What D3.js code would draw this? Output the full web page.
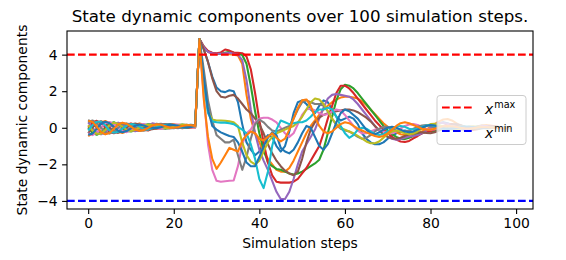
<!DOCTYPE html>
<html>
<head>
<meta charset="utf-8">
<script src="https://cdn.jsdelivr.net/npm/d3@7"></script>
<style>
  body { margin: 0; background: #fff; }
  text { font-family: "DejaVu Sans", sans-serif; fill: #000; }
</style>
</head>
<body>
<script>
// one array per state component, steps 0..99 (rows of 10 after the jump at step 26)
var blue1 = [.42,.28,0,-.26,-.34,-.23,0,.20,.26,.17, .02,-.13,-.18,-.11,.03,.15,.22,.18,.08,-.01, -.03,.01,.08,.14,.17,.14,
  4.85,4.30,3.60,2.80,2.20,2.00,1.95,2.05,2.00,1.40,
  0.20,-0.80,-1.20,-1.50,-1.30,-0.70,-0.40,-0.50,-1.00,-1.30,
  -1.00,-0.20,0.80,1.40,1.50,1.30,1.00,0.80,1.20,1.50,
  1.40,1.00,0.60,0.40,0.50,0.60,0.50,0.20,-0.30,-0.60,
  -0.80,-0.90,-0.90,-0.80,-0.60,-0.45,-0.30,-0.20,-0.15,-0.20,
  -0.30,-0.35,-0.30,-0.15,0.00,0.15,0.25,0.30,0.25,0.15,
  0.05,-0.05,-0.10,-0.08,0.00,0.08,0.12,0.10,0.05,0.00,
  -0.03,-0.02,0.01,0.03];
var orange1 = [-.46,-.31,0,.29,.37,.25,0,-.22,-.29,-.19, -.02,.18,.24,.16,.03,-.03,-.07,-.02,.08,.17, .19,.15,.08,.02,-.01,.02,
  4.85,4.40,4.15,4.08,4.05,4.05,4.05,4.02,4.00,3.95,
  3.50,1.80,0.50,-0.30,-0.80,-1.30,-1.70,-2.00,-2.30,-2.40,
  -2.40,-2.20,-1.80,-1.30,-0.80,-0.30,0.10,0.40,0.70,1.00,
  1.20,1.40,1.55,1.65,1.70,1.70,1.65,1.60,1.45,1.25,
  1.00,0.75,0.50,0.25,0.05,-0.10,-0.25,-0.35,-0.40,-0.40,
  -0.35,-0.30,-0.20,-0.10,0.05,0.20,0.35,0.45,0.48,0.40,
  0.25,0.10,0.00,-0.05,-0.02,0.05,0.12,0.15,0.12,0.08,
  0.03,0.00,0.00,0.02];
var green = [0,-.28,-.38,-.26,0,.23,.30,.20,0,-.17, -.20,-.13,.02,.15,.19,.19,.08,-.02,-.05,-.01, .08,.15,.18,.14,.08,.02,
  4.85,4.45,4.18,4.08,4.05,4.05,4.10,4.15,4.10,4.05,
  3.98,3.50,2.30,0.90,-0.30,-1.20,-1.90,-2.10,-2.25,-2.30,
  -2.40,-2.50,-2.55,-2.50,-2.40,-2.25,-2.10,-1.95,-1.75,-1.20,
  -0.30,0.60,1.50,2.10,2.35,2.30,2.15,1.90,1.60,1.30,
  1.00,0.70,0.40,0.10,-0.15,-0.35,-0.50,-0.60,-0.62,-0.55,
  -0.45,-0.35,-0.28,-0.22,-0.20,-0.18,-0.12,-0.05,0.05,0.12,
  0.15,0.12,0.05,-0.02,-0.06,-0.05,0.00,0.05,0.08,0.07,
  0.04,0.00,-0.02,-0.01];
var red = [0,.28,.38,.26,0,-.23,-.30,-.20,0,.17, .24,.17,.02,-.11,-.15,-.03,.08,.18,.21,.17, .08,.01,-.02,.02,.08,.14,
  4.85,4.45,4.20,4.10,4.08,4.12,4.28,4.22,4.12,4.10,
  4.08,3.90,3.20,1.90,0.40,-0.80,-1.90,-2.60,-2.95,-3.00,
  -3.00,-3.00,-2.95,-2.80,-2.50,-2.20,-1.80,-1.40,-1.00,-0.30,
  0.50,1.20,1.90,2.30,2.30,2.15,1.90,1.60,1.30,1.00,
  0.70,0.40,0.15,-0.10,-0.30,-0.50,-0.65,-0.75,-0.78,-0.72,
  -0.58,-0.45,-0.30,-0.22,-0.18,-0.10,0.00,0.10,0.18,0.20,
  0.15,0.05,-0.05,-0.12,-0.12,-0.06,0.02,0.08,0.10,0.08,
  0.03,-0.02,-0.03,0.00];
var purple = [.30,0,-.27,-.36,-.24,0,.21,.28,.18,0, -.14,-.19,-.12,.02,.14,.24,.19,.08,-.01,-.04, 0,.08,.15,.17,.14,.08,
  4.85,4.40,4.15,4.08,4.05,4.05,4.08,4.10,4.05,4.00,
  3.70,2.60,1.00,-0.30,-1.20,-1.80,-2.30,-2.90,-3.50,-3.90,
  -3.90,-3.50,-2.80,-2.00,-1.30,-0.90,-0.50,-0.10,0.50,1.10,
  1.60,1.80,1.85,1.80,1.75,1.70,1.55,1.30,1.00,0.70,
  0.40,0.10,-0.15,-0.35,-0.50,-0.60,-0.65,-0.62,-0.55,-0.48,
  -0.45,-0.40,-0.30,-0.15,0.00,0.15,0.25,0.28,0.22,0.12,
  0.00,-0.10,-0.15,-0.12,-0.05,0.03,0.08,0.09,0.06,0.02,
  -0.01,-0.03,-0.02,0.00];
var brown = [-.30,0,.27,.36,.24,0,-.21,-.28,-.18,0, .18,.23,.16,.02,-.10,-.08,-.03,.08,.17,.20, .16,.08,.01,-.01,.02,.08,
  4.85,4.30,3.60,2.70,2.00,1.70,1.65,1.75,1.80,1.60,
  1.30,1.00,0.80,0.50,0.20,-0.30,-0.90,-1.40,-1.80,-2.10,
  -2.35,-2.50,-2.60,-2.40,-1.70,-0.80,-0.10,0.30,0.55,0.70,
  0.80,0.85,0.90,0.95,1.00,1.00,0.95,0.85,0.70,0.55,
  0.35,0.10,-0.15,-0.35,-0.50,-0.58,-0.60,-0.55,-0.45,-0.35,
  -0.28,-0.25,-0.25,-0.28,-0.30,-0.25,-0.15,-0.02,0.10,0.18,
  0.20,0.15,0.06,-0.03,-0.08,-0.08,-0.03,0.03,0.07,0.07,
  0.04,0.00,-0.02,-0.01];
var pink = [-.30,-.40,-.27,0,.24,.32,.21,0,-.18,-.24, -.14,.02,.16,.20,.14,.08,-.03,-.06,-.01,.08, .16,.18,.15,.08,.02,0,
  4.85,1.80,-0.90,-2.30,-2.90,-2.95,-2.92,-2.90,-2.88,-2.10,
  -0.90,-0.30,-0.10,0.30,0.50,0.55,0.55,0.45,0.30,0.00,
  -0.30,-0.50,-0.30,0.20,0.70,1.00,1.05,0.95,0.80,0.70,
  0.75,0.90,1.00,0.95,0.70,0.40,0.10,-0.15,-0.30,-0.30,
  -0.20,-0.10,-0.10,-0.20,-0.30,-0.30,-0.20,-0.05,0.10,0.18,
  0.20,0.15,0.05,-0.05,-0.10,-0.08,0.00,0.08,0.12,0.10,
  0.05,0.00,-0.03,-0.03,0.00,0.04,0.06,0.05,0.02,0.00,
  -0.01,0.00,0.01,0.02];
var gray = [.30,.40,.27,0,-.24,-.32,-.21,0,.18,.24, .18,.02,-.12,-.16,-.10,.08,.19,.22,.17,.08, 0,-.02,.01,.08,.14,.16,
  4.85,3.20,1.50,0.40,-0.40,-0.60,-0.80,-0.80,-0.65,-1.50,
  -2.30,-1.60,-0.60,0.20,0.45,0.30,0.05,-0.15,-0.20,-0.10,
  0.00,0.10,0.50,1.00,1.40,1.50,1.40,1.30,1.30,1.20,
  0.90,0.50,0.15,-0.05,-0.15,-0.20,-0.35,-0.50,-0.60,-0.55,
  -0.40,-0.20,-0.05,0.05,0.05,-0.05,-0.15,-0.20,-0.20,-0.15,
  -0.05,0.05,0.12,0.15,0.10,0.02,-0.05,-0.08,-0.05,0.00,
  0.05,0.07,0.05,0.02,-0.01,-0.02,-0.01,0.01,0.02,0.02,
  0.01,0.00,0.00,0.01];
var olive = [.15,-.15,-.33,-.33,-.12,.15,.27,.22,.05,-.12, -.18,-.12,.01,.12,.16,.16,.13,.05,-.01,-.02, .05,.12,.16,.16,.12,.07,
  4.85,2.60,0.90,0.45,0.40,0.40,0.38,0.35,0.30,0.10,
  -0.80,-1.50,-1.85,-2.00,-1.80,-1.30,-0.80,-0.50,-0.30,-0.20,
  -0.10,0.00,0.10,0.30,0.60,1.00,1.40,1.60,1.55,1.30,
  0.90,0.50,0.20,0.00,-0.10,-0.20,-0.30,-0.45,-0.60,-0.75,
  -0.85,-0.85,-0.75,-0.55,-0.35,-0.20,-0.15,-0.20,-0.30,-0.35,
  -0.30,-0.20,-0.05,0.10,0.20,0.22,0.15,0.05,-0.05,-0.10,
  -0.10,-0.05,0.02,0.07,0.08,0.05,0.01,-0.02,-0.03,-0.01,
  0.01,0.02,0.01,0.00];
var cyan = [-.15,.15,.33,.33,.12,-.15,-.27,-.22,-.05,.12, .20,.17,.06,-.06,-.10,-.02,.03,.11,.17,.18, .14,.07,.02,.02,.06,.12,
  4.85,2.50,0.80,0.35,0.30,0.28,0.28,0.25,0.20,0.05,
  -0.10,-0.30,-0.90,-1.70,-2.80,-3.30,-2.40,-1.00,-0.10,0.40,
  0.30,0.20,0.25,0.30,0.30,0.40,0.60,0.85,1.00,1.00,
  1.10,1.00,0.60,0.10,-0.30,-0.55,-0.40,-0.10,0.00,-0.05,
  -0.20,-0.35,-0.40,-0.35,-0.20,-0.05,0.05,0.10,0.05,-0.05,
  -0.10,-0.05,0.05,0.12,0.15,0.10,0.02,-0.05,-0.08,-0.05,
  0.00,0.05,0.07,0.05,0.02,-0.01,-0.02,-0.01,0.01,0.02,
  0.02,0.01,0.00,0.00];
var blue2 = [-.38,-.32,-.06,.22,.33,.25,.05,-.16,-.24,-.18, -.03,.11,.18,.13,.03,.00,-.02,.03,.11,.16, .15,.11,.06,.03,.05,.09,
  4.85,2.80,1.00,0.10,-0.10,-0.25,-0.35,-0.45,-0.50,-0.80,
  -1.30,-1.90,-2.10,-2.10,-1.60,-1.00,-0.55,-0.25,-0.40,-1.10,
  -1.30,-1.40,-1.20,-0.80,-0.30,0.10,0.00,-0.50,-1.00,-1.20,
  -0.90,-0.30,0.30,0.80,1.00,0.90,0.70,0.50,0.20,-0.10,
  -0.30,-0.35,-0.25,-0.10,0.00,0.05,0.00,-0.10,-0.20,-0.25,
  -0.20,-0.10,0.00,0.10,0.15,0.12,0.05,-0.02,-0.05,-0.05,
  -0.02,0.02,0.05,0.06,0.04,0.01,-0.01,-0.02,-0.01,0.01,
  0.02,0.02,0.01,0.00];
var orange2 = [.40,.32,.06,-.24,-.36,-.28,-.05,.18,.28,.22, .06,-.10,-.17,-.13,-.01,.12,.19,.17,.09,.01, .00,.04,.10,.14,.14,.10,
  4.85,1.60,-0.50,-1.70,-2.25,-1.90,-1.50,-1.10,-1.20,-1.30,
  -0.70,-0.40,-0.20,-0.30,-0.60,-0.70,-0.50,-0.30,-0.55,-0.75,
  -0.60,-0.10,0.50,1.10,1.50,1.55,1.20,0.60,0.10,-0.20,
  -0.30,-0.20,0.00,0.20,0.30,0.25,0.10,-0.05,-0.15,-0.25,
  -0.35,-0.45,-0.50,-0.45,-0.30,-0.10,0.10,0.25,0.30,0.25,
  0.15,0.05,-0.05,-0.10,-0.10,-0.05,0.02,0.08,0.10,0.08,
  0.04,0.00,-0.03,-0.04,-0.02,0.01,0.03,0.03,0.02,0.00,
  -0.01,-0.01,0.00,0.01];

var series = [blue1, orange1, green, red, purple, brown, pink, gray, olive, cyan, blue2, orange2];
var colors = ["#1f77b4", "#ff7f0e", "#2ca02c", "#d62728", "#9467bd", "#8c564b",
              "#e377c2", "#7f7f7f", "#bcbd22", "#17becf", "#1f77b4", "#ff7f0e"];
var xTicks = [0, 20, 40, 60, 80, 100];
var yTicks = [-4, -2, 0, 2, 4];
var bounds = [{name: "max", value: 4, color: "red"}, {name: "min", value: -4, color: "blue"}];

var W = 566, H = 260;
var margin = {top: 31, right: 33, bottom: 51, left: 67};
var w = W - margin.left - margin.right;
var h = H - margin.top - margin.bottom;

var nSteps = blue1.length;

// matplotlib style 5% margins
var xPad = (nSteps - 1) * 0.05;
var x = d3.scaleLinear().domain([-xPad, nSteps - 1 + xPad]).range([0, w]);

var allVals = [].concat.apply([], series).concat(bounds.map(function(b) { return b.value }));
var yMin = d3.min(allVals), yMax = d3.max(allVals);
var yPad = (yMax - yMin) * 0.05;
var y = d3.scaleLinear().domain([yMin - yPad, yMax + yPad]).range([h, 0]);

var svg = d3.select("body").append("svg")
  .attr("width", W)
  .attr("height", H);

var g = svg.append("g")
  .attr("transform", "translate(" + margin.left + "," + margin.top + ")");

g.append("defs").append("clipPath").attr("id", "clip")
  .append("rect").attr("width", w).attr("height", h);

var plot = g.append("g").attr("clip-path", "url(#clip)");

var line = d3.line()
  .x(function(d, i) { return x(i) })
  .y(function(d) { return y(d) });

plot.selectAll(".state")
  .data(series)
  .enter().append("path")
  .attr("class", "state")
  .attr("d", line)
  .attr("fill", "none")
  .attr("stroke", function(d, i) { return colors[i] })
  .attr("stroke-width", 2.08)
  .attr("stroke-linejoin", "round");

plot.selectAll(".bound")
  .data(bounds)
  .enter().append("line")
  .attr("class", "bound")
  .attr("x1", 0).attr("x2", w)
  .attr("y1", function(d) { return y(d.value) })
  .attr("y2", function(d) { return y(d.value) })
  .attr("stroke", function(d) { return d.color })
  .attr("stroke-width", 2.08)
  .attr("stroke-dasharray", "7.7,3.3");

// axes
var xAxis = d3.axisBottom(x).tickValues(xTicks).tickSize(4.9).tickPadding(4.5);
var yAxis = d3.axisLeft(y).tickValues(yTicks).tickSize(4.9).tickPadding(4.5)
  .tickFormat(function(d) { return d < 0 ? "\u2212" + Math.abs(d) : d });

var gx = g.append("g").attr("transform", "translate(0," + h + ")").call(xAxis);
var gy = g.append("g").call(yAxis);
[gx, gy].forEach(function(a) {
  a.select(".domain").remove();
  a.selectAll(".tick line").attr("stroke", "#000").attr("stroke-width", 1.1);
  a.selectAll(".tick text").style("font-size", "13.9px").style("font-family", "DejaVu Sans");
});

g.append("rect")
  .attr("width", w).attr("height", h)
  .attr("fill", "none")
  .attr("stroke", "#000")
  .attr("stroke-width", 1.1);

// labels
g.append("text")
  .attr("x", w / 2).attr("y", -9)
  .attr("text-anchor", "middle")
  .style("font-size", "16.7px")
  .text("State dynamic components over 100 simulation steps.");

g.append("text")
  .attr("x", w / 2).attr("y", h + 39)
  .attr("text-anchor", "middle")
  .style("font-size", "13.9px")
  .text("Simulation steps");

g.append("text")
  .attr("transform", "translate(" + (-40) + "," + (h / 2) + ") rotate(-90)")
  .attr("text-anchor", "middle")
  .style("font-size", "13.9px")
  .text("State dynamic components");

// legend, center right
var legW = 89, legH = 49;
var legend = g.append("g")
  .attr("transform", "translate(" + (w - legW - 7) + "," + (h / 2 - legH / 2) + ")");

legend.append("rect")
  .attr("width", legW).attr("height", legH)
  .attr("rx", 3)
  .attr("fill", "#fff").attr("fill-opacity", 0.8)
  .attr("stroke", "#cccccc").attr("stroke-width", 1);

var item = legend.selectAll(".item")
  .data(bounds)
  .enter().append("g")
  .attr("class", "item")
  .attr("transform", function(d, i) { return "translate(0," + (12 + i * 23.5) + ")" });

item.append("line")
  .attr("x1", 5).attr("x2", 35)
  .attr("stroke", function(d) { return d.color })
  .attr("stroke-width", 2.08)
  .attr("stroke-dasharray", "7.7,3.3");

var label = item.append("text")
  .attr("x", 48).attr("y", 6.5)
  .style("font-size", "13.9px");
label.append("tspan").style("font-style", "italic").text("x");
label.append("tspan").attr("dy", -6).attr("dx", 1).style("font-size", "9.7px").text(function(d) { return d.name });
</script>
</body>
</html>
